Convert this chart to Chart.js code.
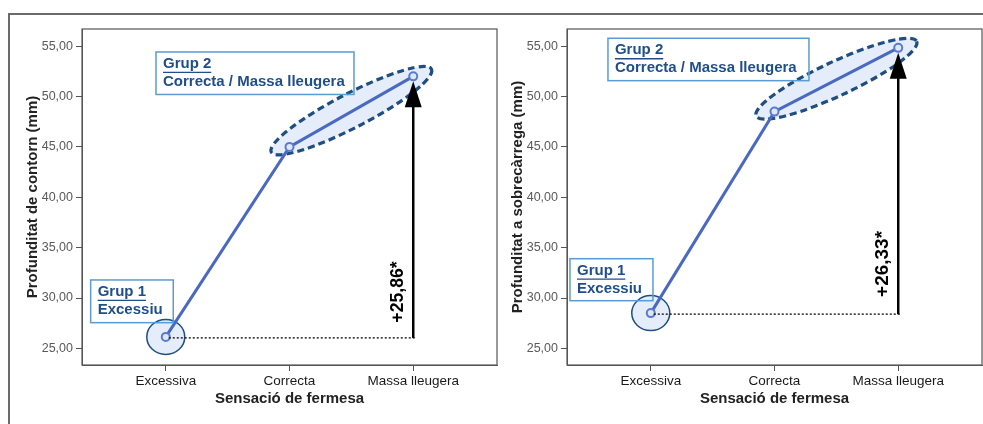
<!DOCTYPE html>
<html>
<head>
<meta charset="utf-8">
<script src="https://cdn.jsdelivr.net/npm/chart.js@4.4.1/dist/chart.umd.min.js"></script>
<style>
  html, body { margin: 0; padding: 0; background: #fff; overflow: hidden; }
  #wrap { position: relative; width: 983px; height: 424px; overflow: hidden; }
  canvas { position: absolute; top: 0; }
  #c1 { left: 0; }
  #c2 { left: 485px; }
  #frame { position: absolute; left: 8px; top: 13px; width: 1000px; height: 500px;
           border-left: 2px solid #6b6b6b; border-top: 2px solid #6b6b6b; }
</style>
</head>
<body>
<div id="wrap">
  <div id="frame"></div>
  <canvas id="c1" width="503" height="424"></canvas>
  <canvas id="c2" width="503" height="424"></canvas>
</div>
<script>
// data
var categories = ["Excessiva", "Correcta", "Massa lleugera"];
var contornValues = [26.14, 45.0, 52.0];
var sobrecarregaValues = [28.5, 48.5, 54.83];
var yTicks = [25, 30, 35, 40, 45, 50, 55];
var diffLabels = ["+25,86*", "+26,33*"];
var xTitle = "Sensació de fermesa";
var yTitles = ["Profunditat de contorn (mm)", "Profunditat a sobrecàrrega (mm)"];

var FONT = "'Liberation Sans', Arial, sans-serif";
var lineBlue = "#4a6ac2";
var darkBlue = "#1f4e82";
var textBlue = "#1f4e8c";
var fillBlue = "#e4edf9";

function groupBox(ctx, xs, ys, b, l1, l2) {
    var x = xs.getPixelForValue(b.x), y = ys.getPixelForValue(b.y);
    ctx.save();
    ctx.setLineDash([]);
    ctx.strokeStyle = "#5b9bd5";
    ctx.lineWidth = 1.5;
    ctx.strokeRect(x, y, b.w, b.h);
    ctx.fillStyle = textBlue;
    ctx.font = "bold 15px " + FONT;
    ctx.textBaseline = "middle";
    ctx.textAlign = "left";
    ctx.fillText(l1, x + 7, y + 12);
    var w = ctx.measureText(l1).width;
    ctx.strokeStyle = textBlue;
    ctx.lineWidth = 1.3;
    ctx.beginPath();
    ctx.moveTo(x + 7, y + 20.5);
    ctx.lineTo(x + 7 + w, y + 20.5);
    ctx.stroke();
    ctx.fillText(l2, x + 7, y + 30);
    ctx.restore();
}

var annotPlugin = {
    id: "annot",
    beforeDatasetsDraw: function(chart, args, o) {
        var ctx = chart.ctx;
        var pts = chart.getDatasetMeta(0).data;
        var p0 = pts[0], p1 = pts[1], p2 = pts[2];
        ctx.save();
        // group 2 ellipse
        var cx = (p1.x + p2.x) / 2, cy = (p1.y + p2.y) / 2 - 1;
        var ang = Math.atan2(p2.y - p1.y, p2.x - p1.x) + 0.04;
        var half = Math.hypot(p2.x - p1.x, p2.y - p1.y) / 2;
        ctx.beginPath();
        ctx.ellipse(cx, cy, half + 19, 17, ang, 0, Math.PI * 2);
        ctx.fillStyle = fillBlue;
        ctx.fill();
        ctx.setLineDash([7, 4]);
        ctx.lineWidth = 3.2;
        ctx.strokeStyle = darkBlue;
        ctx.stroke();
        // group 1 circle
        ctx.setLineDash([]);
        ctx.beginPath();
        ctx.ellipse(p0.x, p0.y, 19, 17.5, 0, 0, Math.PI * 2);
        ctx.fillStyle = fillBlue;
        ctx.fill();
        ctx.lineWidth = 1.5;
        ctx.stroke();
        ctx.restore();
    },
    afterDatasetsDraw: function(chart, args, o) {
        var ctx = chart.ctx, xs = chart.scales.x, ys = chart.scales.y;
        var pts = chart.getDatasetMeta(0).data;
        var p0 = pts[0], p2 = pts[2];
        ctx.save();
        // dotted baseline
        ctx.strokeStyle = "#000";
        ctx.lineWidth = 1.3;
        ctx.setLineDash([2, 2]);
        ctx.beginPath();
        ctx.moveTo(p0.x + 3, p0.y + 1);
        ctx.lineTo(p2.x + 3, p0.y + 1);
        ctx.stroke();
        // arrow
        ctx.setLineDash([]);
        ctx.lineWidth = 2.5;
        ctx.beginPath();
        ctx.moveTo(p2.x, p0.y + 1);
        ctx.lineTo(p2.x, p2.y + 30);
        ctx.stroke();
        ctx.beginPath();
        ctx.moveTo(p2.x, p2.y + 5);
        ctx.lineTo(p2.x - 8.5, p2.y + 31);
        ctx.lineTo(p2.x + 8.5, p2.y + 31);
        ctx.closePath();
        ctx.fillStyle = "#000";
        ctx.fill();
        // diff label
        ctx.translate(p2.x - 15, ys.getPixelForValue(o.labelY));
        ctx.rotate(-Math.PI / 2);
        ctx.scale(o.labelScale, 1);
        ctx.font = "bold 19px " + FONT;
        ctx.textAlign = "center";
        ctx.textBaseline = "middle";
        ctx.fillText(o.label, 0, 0);
        ctx.restore();
        groupBox(ctx, xs, ys, o.box2, "Grup 2", "Correcta / Massa lleugera");
        groupBox(ctx, xs, ys, o.box1, "Grup 1", "Excessiu");
    },
    afterDraw: function(chart) {
        var ctx = chart.ctx, a = chart.chartArea;
        ctx.save();
        ctx.strokeStyle = "#555";
        ctx.lineWidth = 1.2;
        ctx.strokeRect(a.left, a.top, a.right - a.left, a.bottom - a.top);
        ctx.restore();
    }
};

function makeChart(canvas, values, yTitle, annot) {
    return new Chart(canvas, {
        type: "line",
        data: {
            datasets: [{
                data: values.map(function(v, i) { return { x: i, y: v }; }),
                borderColor: lineBlue,
                borderWidth: 3,
                pointRadius: 4,
                pointBorderWidth: 2,
                pointBorderColor: "#5b7bd0",
                pointBackgroundColor: "#dfe8f6",
                tension: 0
            }]
        },
        options: {
            responsive: false,
            animation: false,
            events: [],
            layout: { padding: { left: 0, right: 0, top: 29, bottom: 0 } },
            plugins: {
                legend: { display: false },
                tooltip: { enabled: false },
                annot: annot
            },
            scales: {
                x: {
                    type: "linear",
                    min: -0.677,
                    max: 2.677,
                    afterBuildTicks: function(s) { s.ticks = categories.map(function(c, i) { return { value: i }; }); },
                    afterFit: function(s) { s.height = 59; },
                    grid: { drawOnChartArea: false, drawTicks: true, tickLength: 6, color: "#555" },
                    border: { display: true, color: "#555" },
                    ticks: {
                        maxRotation: 0,
                        autoSkip: false,
                        padding: 2,
                        color: "#1a1a1a",
                        font: { family: FONT, size: 13.5 },
                        callback: function(v) { return categories[v]; }
                    },
                    title: {
                        display: true,
                        text: xTitle,
                        color: "#222",
                        font: { family: FONT, size: 15, weight: "bold" },
                        padding: { top: 0, bottom: 16 }
                    }
                },
                y: {
                    min: 23.35,
                    max: 56.7,
                    afterBuildTicks: function(s) { s.ticks = yTicks.map(function(v) { return { value: v }; }); },
                    afterFit: function(s) { s.width = 82; },
                    grid: { drawOnChartArea: false, drawTicks: true, tickLength: 6, color: "#555" },
                    border: { display: true, color: "#555" },
                    ticks: {
                        padding: 3,
                        color: "#5a5a5a",
                        font: { family: FONT, size: 12.5 },
                        callback: function(v) { return v.toFixed(2).replace(".", ","); }
                    },
                    title: {
                        display: true,
                        text: yTitle,
                        color: "#222",
                        font: { family: FONT, size: 15, weight: "bold" },
                        padding: { top: 24, bottom: 0 }
                    }
                }
            }
        },
        plugins: [annotPlugin]
    });
}

makeChart(document.getElementById("c1"), contornValues, yTitles[0], {
    label: diffLabels[0], labelY: 30.6, labelScale: 0.93,
    box2: { x: -0.079, y: 54.42, w: 198, h: 42.5 },
    box1: { x: -0.607, y: 31.79, w: 82.6, h: 42.7 }
});
makeChart(document.getElementById("c2"), sobrecarregaValues, yTitles[1], {
    label: diffLabels[1], labelY: 33.38, labelScale: 1.0,
    box2: { x: -0.346, y: 55.78, w: 201, h: 42.4 },
    box1: { x: -0.653, y: 33.9, w: 83, h: 42 }
});
</script>
</body>
</html>
